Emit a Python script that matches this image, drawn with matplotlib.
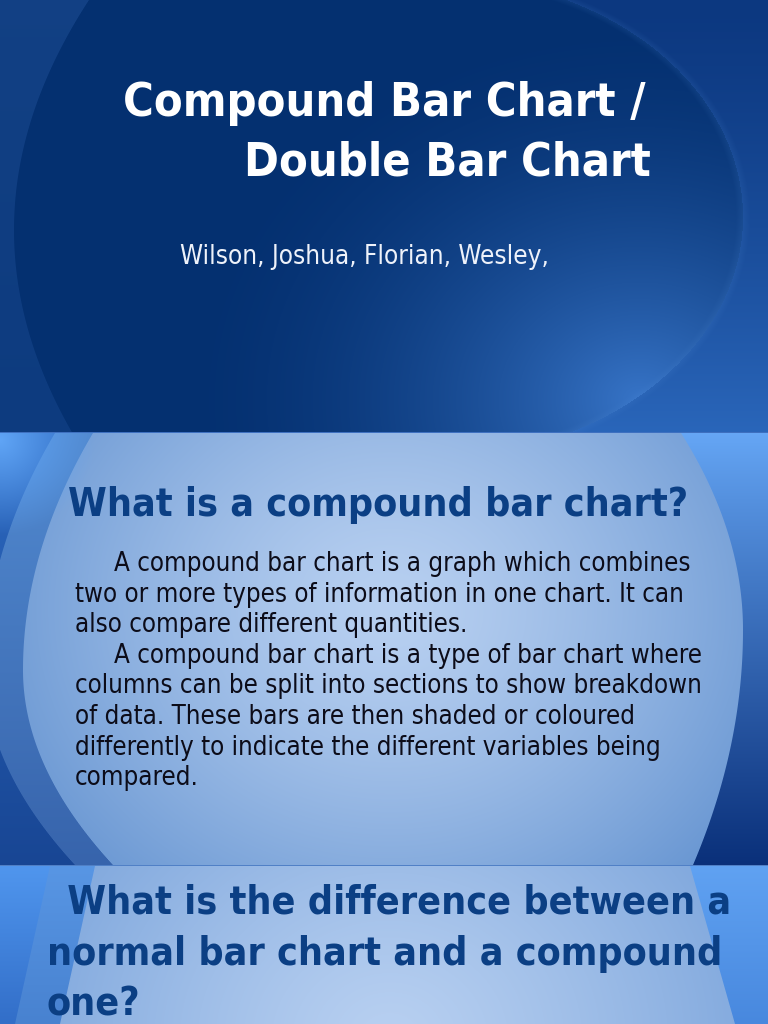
import numpy as np
import matplotlib
matplotlib.use('Agg')
import matplotlib.pyplot as plt
from matplotlib import font_manager

W, H = 768, 1024

# slide texts
title_lines = ['Compound Bar Chart /', 'Double Bar Chart']
authors = 'Wilson, Joshua, Florian, Wesley,'
heading_2 = 'What is a compound bar chart?'
body_lines = [
    'A compound bar chart is a graph which combines',
    'two or more types of information in one chart. It can',
    'also compare different quantities.',
    'A compound bar chart is a type of bar chart where',
    'columns can be split into sections to show breakdown',
    'of data. These bars are then shaded or coloured',
    'differently to indicate the different variables being',
    'compared.',
]
body_indent = [True, False, False, True, False, False, False, False]
heading_3 = [' What is the difference between a',
             'normal bar chart and a compound',
             'one?']

# ---------------- background picture ----------------
yy, xx = np.mgrid[0:H, 0:W] + 0.5
img = np.zeros((H, W, 3))


def col(c):
    return np.array(c, dtype=float) / 255


def lerp(c0, c1, t):
    t = np.clip(t, 0, 1)[..., None]
    return col(c0) * (1 - t) + col(c1) * t


def paint(mask, colour):
    m = np.clip(mask, 0, 1)[..., None]
    img[:] = img * (1 - m) + colour * m


def soft(d):
    return np.clip(d + 0.5, 0, 1)


s1 = (yy < 433).astype(float)
s2 = ((yy >= 433) & (yy < 866)).astype(float)
s3 = (yy >= 866).astype(float)

# slide 1: dark navy with a big arc and a glow low right
paint(s1, col((4, 48, 112)))
ell = ((xx - 430) / 313) ** 2 + ((yy - 217) / 241) ** 2
inside = (ell <= 1) | (xx < 430)
glow = np.clip(1 - np.hypot(xx - 640, (yy - 400) * 1.2) / 470, 0, 1) ** 1.8
paint(s1 * inside * glow * 0.95, col((58, 120, 204)))
outer = s1 * (~inside)
paint(outer, lerp((12, 56, 128), (42, 102, 186), (yy / 433) ** 1.3))
rim = np.clip(1 - np.abs(np.sqrt(ell) - 1) * 45, 0, 1) * (xx > 430)
paint(s1 * rim * 0.12, col((80, 140, 215)))
f1 = 14 + 75 * ((yy - 230) / 230) ** 2
paint(s1 * soft(f1 - xx) * 0.35, lerp((45, 95, 170), (30, 80, 155), yy / 433))

# slide 2: light blue centre, coloured side bands
d2 = np.hypot(xx - 390, (yy - 610) * 1.15)
paint(s2, lerp((184, 208, 241), (104, 150, 210), (d2 / 430) ** 1.3))
yl = yy - 670
xl = np.where(yl < 0, 23 + 70 * (yl / 237) ** 2, 23 + 90 * (yl / 195) ** 2)
t2 = np.clip((yy - 433) / 432, 0, 1)
paint(s2 * soft(xl - xx), lerp((82, 138, 208), (55, 100, 172), t2))
paint(s2 * soft(xl - 38 - xx), lerp((45, 105, 192), (24, 70, 148), t2))
corner = np.clip(1 - np.hypot(xx, yy - 440) / 95, 0, 1)
paint(s2 * corner, col((96, 165, 246)))
yr = yy - 630
xr = np.where(yr < 0, 743 - 62 * (yr / 197) ** 2, 743 - 50 * (yr / 235) ** 2)
paint(s2 * soft(xx - xr), lerp((102, 167, 246), (10, 48, 122), t2 ** 0.9))

# slide 3: top of the next slide
d3 = np.hypot(xx - 390, (yy - 1040) * 1.15)
paint(s3, lerp((184, 208, 241), (120, 162, 218), (d3 / 420) ** 1.2))
t3 = np.clip((yy - 866) / 158, 0, 1)
xl3 = 95 - 35 * t3
paint(s3 * soft(xl3 - xx), lerp((88, 150, 228), (72, 130, 208), t3))
paint(s3 * soft(xl3 - 45 - xx), lerp((80, 150, 238), (50, 110, 200), t3))
xr3 = 690 + 45 * t3
paint(s3 * soft(xx - xr3), lerp((96, 162, 242), (72, 136, 222), t3))

# slide borders
for y0, c in [(432, (62, 112, 192)), (865, (80, 128, 198))]:
    paint(((yy > y0 - 0.5) & (yy < y0 + 1.5)).astype(float), col(c))

img = np.nan_to_num(np.clip(img, 0, 1))

# ---------------- figure ----------------
fp = font_manager.FontProperties(family='DejaVu Sans', stretch='condensed')
cond = 'Condensed' in font_manager.findfont(fp)
stretch = 'condensed' if cond else 'normal'
k = 1.11 if cond else 1.0

fig = plt.figure(figsize=(W / 100, H / 100), dpi=100)
ax = fig.add_axes([0, 0, 1, 1])
ax.imshow(img, extent=(0, W, H, 0), interpolation='bilinear')
ax.set_xlim(0, W)
ax.set_ylim(H, 0)
ax.axis('off')

txt = dict(family='DejaVu Sans', fontstretch=stretch, va='baseline')

# title slide
ax.text(646, 116, title_lines[0], color='white', fontsize=30.3 * k,
        fontweight='bold', ha='right', **txt)
ax.text(651, 176, title_lines[1], color='white', fontsize=30.3 * k,
        fontweight='bold', ha='right', **txt)
ax.text(180, 264, authors, color='#eef2fa', fontsize=16.9 * k, ha='left', **txt)

# second slide
head_col = '#0b3f84'
ax.text(68, 516, heading_2, color=head_col, fontsize=25.4 * k,
        fontweight='bold', ha='left', **txt)
for i, line in enumerate(body_lines):
    x0 = 114 if body_indent[i] else 75
    ax.text(x0, 571 + 30.6 * i, line, color='#0c0c19', fontsize=16.7 * k,
            ha='left', **txt)

# third slide
for i, line in enumerate(heading_3):
    ax.text(47 if i else 55, 914 + 51 * i, line, color=head_col,
            fontsize=25.4 * k, fontweight='bold', ha='left', **txt)

fig.savefig('out.png', dpi=100)
